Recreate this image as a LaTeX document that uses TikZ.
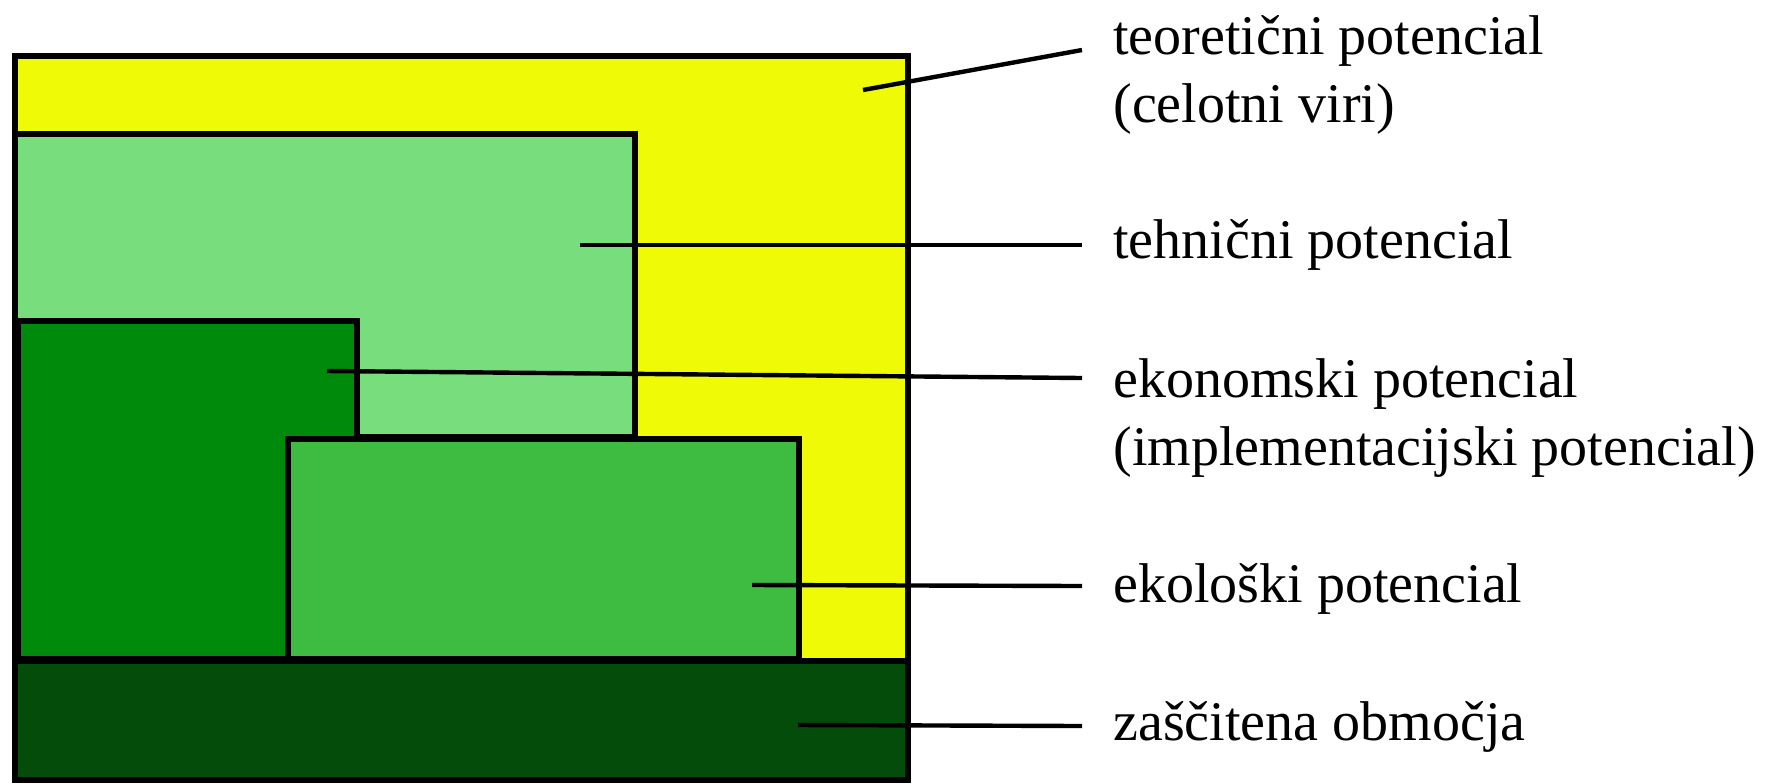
\documentclass[tikz,border=0pt]{standalone}
\usepackage{fontspec}
\setmainfont{Liberation Serif}
\definecolor{teoY}{HTML}{EEFA06}
\definecolor{tehG}{HTML}{78DD7C}
\definecolor{ekoG}{HTML}{008A0C}
\definecolor{ekolG}{HTML}{3EBC42}
\definecolor{zasG}{HTML}{044C0A}
\tikzset{
  area/.style={draw=black, line width=3pt, line join=miter},
  leader/.style={draw=black, line width=2.2pt},
  lbl/.style={anchor=base west, inner sep=0pt, font=\fontsize{28}{34}\selectfont}
}
\begin{document}
\begin{tikzpicture}[x=0.5pt, y=-0.5pt]
\useasboundingbox[fill=white] (0,0) rectangle (1767,783);

% nested potential areas
\path[area, fill=teoY]  (15,56)  rectangle (908,780);
\path[area, fill=tehG]  (15,134) rectangle (635,437);
\path[area, fill=ekoG]  (18,321) rectangle (357,659);
\path[area, fill=ekolG] (288,439) rectangle (799,659);
\path[area, fill=zasG]  (15,661) rectangle (908,780);

% labels
\node[lbl] (lblT)  at (1113,54)  {teoretični potencial};
\node[lbl] (lblT2) at (1113,122) {(celotni viri)};
\node[lbl] (lblH)  at (1113,258) {tehnični potencial};
\node[lbl] (lblE)  at (1113,397) {ekonomski potencial};
\node[lbl] (lblE2) at (1113,465) {(implementacijski potencial)};
\node[lbl] (lblK)  at (1113,602) {ekološki potencial};
\node[lbl] (lblZ)  at (1113,740) {zaščitena območja};

% leader line anchor points
\coordinate (pT) at (863,90);   \coordinate (qT) at (1082,50);
\coordinate (pH) at (580,245);  \coordinate (qH) at (1082,245);
\coordinate (pE) at (327,371);  \coordinate (qE) at (1082,378);
\coordinate (pK) at (752,585);  \coordinate (qK) at (1082,586);
\coordinate (pZ) at (798,725);  \coordinate (qZ) at (1082,726);

\draw[leader] (pT) -- (qT);
\draw[leader] (pH) -- (qH);
\draw[leader] (pE) -- (qE);
\draw[leader] (pK) -- (qK);
\draw[leader] (pZ) -- (qZ);
\end{tikzpicture}
\end{document}
